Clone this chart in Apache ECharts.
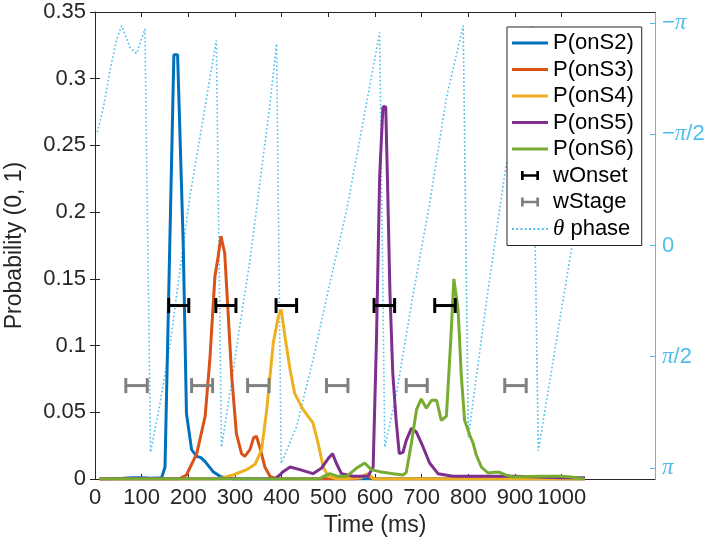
<!DOCTYPE html>
<html><head><meta charset="utf-8">
<script src="https://cdn.jsdelivr.net/npm/echarts@6/dist/echarts.min.js"></script>
<style>html,body{margin:0;padding:0;background:#fff}#c{width:709px;height:544px}</style>
</head><body><div id="c"></div>
<script>
// ---- data ----
const xTickValues = [0,100,200,300,400,500,600,700,800,900,1000];
const phaseTickValues = [-Math.PI, -Math.PI/2, 0, Math.PI/2, Math.PI];
const phaseTickLabels = ['−π','−π/2','0','π/2','π'];
const seriesNames = ['P(onS2)','P(onS3)','P(onS4)','P(onS5)','P(onS6)'];

const onS2 = [[10,0],[60,0.0005],[80,0.001],[100,0.001],[120,0.0005],[143,0.001],[150,0.009],[169,0.318],[177,0.318],[189,0.177],[196,0.049],[207,0.022],[218,0.017],[227,0.016],[236,0.013],[253,0.0055],[268,0.002],[285,0.0005],[300,0],[1050,0]];
const onS3 = [[10,0],[180,0],[196,0.003],[218,0.019],[236,0.047],[246,0.089],[257,0.152],[264,0.167],[270,0.182],[278,0.169],[284,0.132],[293,0.077],[303,0.034],[314,0.019],[321,0.017],[332,0.022],[340,0.031],[346,0.032],[353,0.024],[364,0.009],[375,0.002],[390,0],[560,0],[580,0.003],[595,0],[1050,0]];
const onS4 = [[10,0],[260,0],[275,0.001],[296,0.003],[325,0.007],[343,0.011],[357,0.022],[368,0.052],[382,0.102],[393,0.122],[399,0.127],[407,0.107],[418,0.082],[428,0.064],[446,0.052],[467,0.042],[478,0.027],[489,0.009],[500,0.002],[520,0],[570,0.001],[585,0.004],[598,0],[1050,0]];
const onS5 = [[10,0],[385,0],[396,0.003],[403,0.0055],[418,0.009],[439,0.007],[467,0.004],[485,0.008],[500,0.0155],[509,0.019],[517,0.012],[528,0.004],[553,0.002],[585,0.002],[596,0.009],[603,0.102],[610,0.227],[617,0.279],[623,0.279],[627,0.22],[632,0.14],[638,0.08],[645,0.045],[652,0.019],[660,0.02],[667,0.029],[678,0.038],[689,0.035],[703,0.024],[717,0.012],[735,0.004],[767,0.002],[900,0.002],[1000,0.001],[1050,0.001]];
const onS6 = [[10,0],[480,0],[490,0.002],[503,0.004],[520,0.002],[539,0.002],[560,0.008],[578,0.012],[592,0.007],[610,0.0055],[639,0.004],[660,0.003],[667,0.005],[678,0.027],[689,0.052],[699,0.06],[710,0.053],[721,0.059],[732,0.059],[742,0.044],[753,0.047],[762,0.102],[769,0.15],[778,0.127],[785,0.077],[792,0.044],[803,0.033],[810,0.027],[817,0.018],[828,0.009],[842,0.0045],[855,0.005],[867,0.005],[880,0.003],[896,0.0015],[953,0.002],[996,0.002],[1020,0.0015],[1049,0]];

const wOnset = [[158,201],[259,302],[388,432],[598,642],[728,772]];
const wOnsetLevel = 0.13;
const wStage = [[66,112],[207,252],[327,373],[496,542],[667,712],[878,924]];
const wStageLevel = 0.07;

const thetaPhase = [[5,-1.60],[18,-1.95],[32,-2.47],[46,-2.90],[57,-3.107],[75,-2.80],[89,-2.71],[107,-3.06],[119,2.92],[139,2.24],[161,1.39],[182,0.35],[203,-0.68],[225,-1.53],[243,-2.24],[260,-2.90],[271,2.85],[289,2.09],[310,1.15],[332,0.21],[353,-0.87],[375,-2.0],[389,-2.85],[399,3.08],[432,2.56],[467,1.62],[503,0.54],[539,-0.49],[575,-1.77],[610,-3.01],[621,2.85],[646,2.09],[682,0.68],[717,-0.59],[753,-2.09],[789,-3.107],[800,2.71],[839,0.78],[878,-1.01],[936,-3.1],[950,2.9],[1024,-0.07],[1060,-1.2]];

// ---- style ----
const FONT = 'Liberation Sans';
const AX = '#262626';
const CYAN = '#4DBEEE';
const colors = ['#0072BD','#D95319','#EDB120','#7E2F8E','#77AC30'];
const curves = [onS2, onS3, onS4, onS5, onS6];

function errorBarSeries(name, ranges, level, color){
  return {
    name, type:'custom', xAxisIndex:0, yAxisIndex:0, z:5,
    itemStyle:{color},
    data: ranges.map(r => [r[0], r[1], level]),
    encode:{x:[0,1], y:2},
    renderItem(params, api){
      const a = api.coord([api.value(0), api.value(2)]);
      const b = api.coord([api.value(1), api.value(2)]);
      const h = 7.5;
      const st = {stroke: color, lineWidth: 3, fill: null};
      return {type:'group', children:[
        {type:'line', shape:{x1:a[0],y1:a[1],x2:b[0],y2:b[1]}, style:st},
        {type:'line', shape:{x1:a[0],y1:a[1]-h,x2:a[0],y2:a[1]+h}, style:st},
        {type:'line', shape:{x1:b[0],y1:b[1]-h,x2:b[0],y2:b[1]+h}, style:st}
      ]};
    }
  };
}

// legend icons
const hIcon = 'path://M0,0H3V10H0Z M3,3.5H17V6.5H3Z M17,0H20V10H17Z';
const lineIcon = 'path://M0,0H36V3H0Z';
let dots = '';
for (let x = 0; x < 36; x += 4) dots += 'M' + x + ',0H' + (x + 1.8) + 'V1.8H' + x + 'Z ';
const dotIcon = 'path://' + dots.trim();

const chart = echarts.init(document.getElementById('c'), null, {renderer:'canvas'});
const option = {
  animation:false,
  backgroundColor:'#fff',
  textStyle:{fontFamily:FONT},
  grid:{left:95, right:54, top:12, bottom:65, containLabel:false, outerBoundsMode:'none'},
  xAxis:[{
    type:'value', min:0, max:1200, position:'bottom',
    name:'Time (ms)', nameLocation:'middle', nameGap:34,
    nameTextStyle:{fontSize:23, color:AX, fontFamily:FONT},
    axisLine:{show:true, lineStyle:{color:AX, width:1}},
    axisTick:{show:true, inside:true, length:5, customValues:xTickValues, lineStyle:{color:AX}},
    axisLabel:{show:true, customValues:xTickValues, margin:8, fontSize:22, color:AX, fontFamily:FONT,
      formatter: v => String(v)},
    splitLine:{show:false}
  },{
    type:'value', min:0, max:1200, position:'top',
    axisLine:{show:true, onZero:false, lineStyle:{color:AX, width:1}},
    axisTick:{show:true, inside:true, length:5, customValues:xTickValues, lineStyle:{color:AX}},
    axisLabel:{show:false}, splitLine:{show:false}
  }],
  yAxis:[{
    type:'value', min:0, max:0.35, interval:0.05, position:'left',
    name:'Probability (0, 1)', nameLocation:'middle', nameGap:69, nameRotate:90,
    nameTextStyle:{fontSize:23, color:AX, fontFamily:FONT},
    axisLine:{show:true, onZero:false, lineStyle:{color:AX, width:1}},
    axisTick:{show:true, inside:true, length:5, lineStyle:{color:AX}},
    axisLabel:{margin:9, fontSize:22, color:AX, fontFamily:FONT, formatter: v => String(+v.toFixed(2))},
    splitLine:{show:false}
  },{
    type:'value', min:-3.3, max:3.3, inverse:true, position:'right',
    axisLine:{show:true, onZero:false, lineStyle:{color:CYAN, width:1}},
    axisTick:{show:true, inside:true, length:5, customValues:phaseTickValues, lineStyle:{color:CYAN}},
    axisLabel:{show:true, customValues:phaseTickValues, margin:7, fontSize:22, color:CYAN, fontFamily:FONT,
      formatter:function(v){
        let i = phaseTickValues.findIndex(t => Math.abs(t - v) < 1e-6);
        if (i < 0) return '';
        const s = phaseTickLabels[i];
        return s.split('').map(ch => ch === 'π' ? '{p|π}' : '{n|' + ch + '}').join('');
      },
      rich:{
        p:{fontFamily:'Liberation Serif', fontStyle:'italic', fontSize:23, color:CYAN},
        n:{fontFamily:FONT, fontSize:22, color:CYAN}
      }
    },
    splitLine:{show:false}
  },{
    type:'value', min:0, max:0.35, interval:0.05, position:'right',
    axisLine:{show:false},
    axisTick:{show:true, inside:true, length:5, lineStyle:{color:AX}},
    axisLabel:{show:false}, splitLine:{show:false}
  }],
  legend:{
    orient:'vertical', left:507, top:27,
    backgroundColor:'#fff', borderColor:AX, borderWidth:1, borderRadius:0,
    padding:[5,8,5,5], itemGap:4.5, itemWidth:36, itemHeight:9,
    textStyle:{fontSize:22, fontFamily:FONT, color:'#000', lineHeight:22,
      rich:{i:{fontFamily:'Liberation Serif', fontStyle:'italic', fontSize:23, color:'#000'}}},
    data:[
      ...seriesNames.map(n => ({name:n, icon:lineIcon})),
      {name:'wOnset', icon:hIcon},
      {name:'wStage', icon:hIcon},
      {name:'θ phase', icon:dotIcon}
    ],
    formatter: n => n === 'θ phase' ? '{i|θ} phase' : n,
    z:20
  },
  series:[
    {
      name:'θ phase', type:'line', xAxisIndex:0, yAxisIndex:1, data:thetaPhase,
      symbol:'none', z:1, silent:true,
      lineStyle:{color:CYAN, width:1.6, type:[1.6,2.4]},
      itemStyle:{color:CYAN}
    },
    ...curves.map((d,i) => ({
      name:seriesNames[i], type:'line', xAxisIndex:0, yAxisIndex:0, data:d,
      symbol:'none', z:2+i*0.01,
      lineStyle:{color:colors[i], width:3},
      itemStyle:{color:colors[i]}
    })),
    errorBarSeries('wOnset', wOnset, wOnsetLevel, '#000000'),
    errorBarSeries('wStage', wStage, wStageLevel, '#808080')
  ]
};
chart.setOption(option);
</script></body></html>
